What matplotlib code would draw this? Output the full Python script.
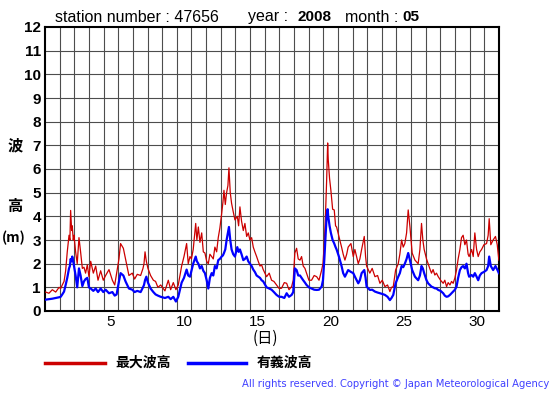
import matplotlib
matplotlib.use("Agg")
import matplotlib.pyplot as plt

# time in days from 1 May 00:00, max wave height (red), significant wave height (blue)
t_day = [0.05, 0.27, 0.5, 0.73, 0.96, 1.07, 1.18, 1.3, 1.41, 1.52, 1.64, 1.7, 1.75, 1.82, 1.86, 1.93, 1.98,
         2.09, 2.2, 2.32, 2.43, 2.55, 2.66, 2.77, 2.89, 3.0, 3.12, 3.3, 3.46, 3.62, 3.8, 3.98, 4.14, 4.37,
         4.6, 4.76, 4.89, 5.05, 5.16, 5.35, 5.5, 5.73, 5.96, 6.12, 6.3, 6.53, 6.69, 6.76, 6.83, 6.92, 7.03,
         7.21, 7.4, 7.55, 7.71, 7.9, 8.19, 8.42, 8.58, 8.76, 8.94, 9.1, 9.33, 9.49, 9.67, 9.78, 9.9, 10.0,
         10.12, 10.29, 10.37, 10.47, 10.58, 10.7, 10.81, 10.92, 11.04, 11.15, 11.26, 11.38, 11.49, 11.6,
         11.72, 11.83, 11.94, 12.06, 12.15, 12.22, 12.31, 12.4, 12.49, 12.56, 12.65, 12.74, 12.85, 12.97,
         13.13, 13.22, 13.31, 13.42, 13.54, 13.65, 13.77, 13.88, 13.99, 14.11, 14.22, 14.33, 14.45, 14.56,
         14.68, 14.79, 14.9, 15.13, 15.31, 15.47, 15.63, 15.81, 15.99, 16.15, 16.34, 16.5, 16.66, 16.84,
         16.95, 17.06, 17.18, 17.29, 17.41, 17.52, 17.63, 17.75, 17.86, 18.02, 18.2, 18.38, 18.55, 18.71,
         18.89, 18.98, 19.07, 19.16, 19.23, 19.3, 19.34, 19.43, 19.52, 19.64, 19.75, 19.84, 19.91, 20.07,
         20.25, 20.36, 20.48, 20.6, 20.7, 20.89, 21.05, 21.16, 21.39, 21.5, 21.62, 21.8, 21.89, 21.96,
         22.18, 22.34, 22.53, 22.71, 22.87, 23.03, 23.21, 23.39, 23.55, 23.66, 23.78, 23.94, 24.12, 24.23,
         24.35, 24.46, 24.57, 24.69, 24.8, 24.92, 25.07, 25.26, 25.48, 25.6, 25.71, 25.8, 25.89, 26.05,
         26.16, 26.27, 26.39, 26.5, 26.62, 26.73, 26.85, 27.01, 27.19, 27.3, 27.42, 27.53, 27.65, 27.76,
         27.87, 27.99, 28.1, 28.21, 28.33, 28.44, 28.55, 28.67, 28.78, 28.89, 28.96, 29.13, 29.24, 29.35,
         29.47, 29.58, 29.69, 29.81, 29.97, 30.15, 30.26, 30.33, 30.44, 30.6, 30.76, 30.88, 30.99]

max_h = [0.8, 0.75, 0.9, 0.8, 1.0, 0.95, 1.1, 1.25, 1.7, 2.5, 3.2, 3.0, 4.25, 3.4, 3.6, 3.0, 3.2,
         2.5, 2.0, 3.1, 2.5, 1.8, 1.85, 1.6, 1.95, 1.45, 2.1, 1.6, 1.9, 1.3, 1.7, 1.3, 1.5, 1.75,
         1.3, 1.1, 1.6, 2.2, 2.85, 2.65, 2.2, 1.5, 1.6, 1.35, 1.55, 1.5, 1.8, 2.0, 2.5, 2.1, 1.8,
         1.5, 1.3, 1.25, 1.0, 1.1, 0.85, 1.3, 0.9, 1.2, 0.9, 1.1, 1.9, 2.3, 2.85, 2.0, 2.3, 2.2,
         2.6, 3.7, 3.0, 3.55, 2.9, 3.3, 2.5, 2.45, 2.1, 2.0, 2.4, 2.3, 2.2, 2.7,
         2.5, 3.1, 3.5, 4.1, 4.6, 5.1, 4.5, 5.0, 5.3, 6.05, 5.0, 4.55, 4.2, 3.85,
         4.0, 3.6, 4.4, 3.8, 3.4, 3.7, 3.15, 3.3, 3.0, 3.1, 2.7, 2.5, 2.3, 2.1,
         1.9, 1.95, 1.75, 1.45, 1.6, 1.3, 1.25, 1.1, 0.95, 0.96, 1.2, 1.17, 0.9, 1.03,
         1.3, 2.45, 2.65, 2.2, 2.15, 2.3, 1.9, 1.8, 1.6, 1.3, 1.3, 1.5, 1.45, 1.3,
         1.73, 2.0, 2.85, 4.2, 5.5, 7.1, 6.4, 5.6, 5.1, 4.3, 4.27, 3.6, 3.55, 3.15,
         2.7, 2.4, 2.15, 2.4, 2.7, 2.85, 2.3, 2.6, 2.0, 2.2, 2.6, 3.15, 2.3, 1.9,
         1.6, 1.8, 1.45, 1.5, 1.17, 1.3, 1.03, 1.1, 0.82, 1.0, 1.03, 1.73, 2.0, 2.4,
         3.0, 2.7, 2.85, 3.3, 4.27, 3.55, 2.45, 2.15, 2.0, 2.6, 3.7, 3.0, 2.6, 2.2,
         2.0, 1.8, 1.6, 1.75, 1.52, 1.6, 1.45, 1.3, 1.17, 1.3, 1.03, 1.2, 1.1, 1.25,
         1.17, 1.4, 1.73, 2.2, 2.6, 3.1, 3.2, 2.8, 3.0, 2.4, 2.3, 2.6, 2.3, 3.3,
         2.6, 2.3, 2.5, 2.6, 2.8, 2.85, 3.2, 3.9, 2.8, 3.0, 3.15, 2.8, 2.15]

sig_h = [0.48, 0.5, 0.52, 0.55, 0.58, 0.6, 0.7, 0.82, 1.1, 1.4, 1.8, 1.9, 2.2, 2.1, 2.3, 2.1, 1.9,
         1.5, 1.0, 1.8, 1.5, 1.05, 1.25, 1.35, 1.4, 1.0, 0.95, 0.85, 0.95, 0.8, 0.95, 0.8, 0.9, 0.75,
         0.8, 0.65, 0.7, 1.25, 1.6, 1.5, 1.25, 0.95, 0.9, 0.8, 0.85, 0.8, 1.0, 1.1, 1.3, 1.45, 1.2,
         0.95, 0.8, 0.7, 0.65, 0.6, 0.55, 0.6, 0.5, 0.6, 0.4, 0.6, 1.2, 1.4, 1.75, 1.5, 1.45, 1.7,
         2.0, 2.3, 2.1, 2.0, 1.8, 1.9, 1.7, 1.6, 1.3, 0.95, 1.4, 1.6, 1.5, 1.9,
         1.8, 2.15, 2.2, 2.3, 2.35, 2.45, 2.6, 3.0, 3.3, 3.55, 3.0, 2.6, 2.4, 2.3,
         2.7, 2.5, 2.6, 2.4, 2.15, 2.2, 2.3, 2.1, 2.0, 1.9, 1.75, 1.65, 1.5, 1.45,
         1.4, 1.3, 1.25, 1.0, 0.95, 0.9, 0.8, 0.68, 0.6, 0.6, 0.55, 0.75, 0.6, 0.68,
         0.8, 1.8, 1.73, 1.5, 1.5, 1.4, 1.3, 1.2, 1.1, 1.0, 0.95, 0.9, 0.89, 0.9,
         1.03, 1.3, 2.15, 3.2, 4.0, 4.3, 4.0, 3.6, 3.3, 3.0, 2.85, 2.7, 2.6, 2.3,
         1.9, 1.6, 1.45, 1.6, 1.73, 1.65, 1.6, 1.45, 1.17, 1.3, 1.6, 1.73, 1.4, 1.03,
         0.89, 0.9, 0.82, 0.78, 0.75, 0.72, 0.68, 0.6, 0.46, 0.55, 0.68, 1.17, 1.45, 1.6,
         1.9, 1.85, 2.0, 2.2, 2.45, 2.15, 1.73, 1.45, 1.3, 1.5, 1.9, 1.8, 1.6, 1.3,
         1.17, 1.1, 1.03, 1.0, 0.96, 0.95, 0.89, 0.85, 0.75, 0.65, 0.6, 0.62, 0.68, 0.75,
         0.82, 0.9, 1.03, 1.4, 1.73, 1.85, 1.9, 1.8, 2.0, 1.6, 1.45, 1.52, 1.45, 1.6,
         1.45, 1.3, 1.5, 1.6, 1.65, 1.73, 1.9, 2.3, 1.9, 1.73, 1.9, 1.75, 1.6]

day_labels = [5, 10, 15, 20, 25, 30]
y_labels = list(range(0, 13))

fig = plt.figure(figsize=(5.55, 3.95), dpi=100)
ax = fig.add_axes([45 / 555, 84 / 395, 454 / 555, 284 / 395])

ax.plot(t_day, max_h, color="#cc0000", lw=0.9, zorder=3)
ax.plot(t_day, sig_h, color="#0000ff", lw=1.6, zorder=4)

ax.set_xlim(0, 31)
ax.set_ylim(0, 12)

# grid: one line per day, one per metre
for d in range(1, 31):
    ax.axvline(d, color="#4d4d4d", lw=0.8, zorder=1)
for m in range(1, 12):
    ax.axhline(m, color="#4d4d4d", lw=0.8, zorder=1)

ax.set_xticks([d - 0.5 for d in day_labels])
ax.set_xticklabels([str(d) for d in day_labels], fontsize=11, family="Liberation Sans")
ax.set_yticks(y_labels)
ax.set_yticklabels([str(v) for v in y_labels], fontsize=11, fontweight="bold", family="Liberation Sans")
ax.tick_params(length=0, pad=3)
for s in ax.spines.values():
    s.set_linewidth(1.5)

jp = ["Noto Sans CJK JP", "DejaVu Sans"]
fig.text(15 / 555, 1 - 145 / 395, "波", fontsize=11, fontweight="bold", family=jp, ha="center", va="center")
fig.text(15 / 555, 1 - 206 / 395, "高", fontsize=11, fontweight="bold", family=jp, ha="center", va="center")
fig.text(14 / 555, 1 - 238 / 395, "(m)", fontsize=10, fontweight="bold", family=jp, ha="center", va="center")
fig.text(265 / 555, 1 - 338 / 395, "(日)", fontsize=11, family=jp, ha="center", va="center")

fig.text(55 / 555, 1 - 17 / 395, "station number : 47656", fontsize=11.5, family="Liberation Sans", va="center")
fig.text(248 / 555, 1 - 17 / 395, "year :", fontsize=11.5, family="Liberation Sans", va="center")
fig.text(298 / 555, 1 - 17 / 395, "2008", fontsize=11, fontweight="bold", family="Liberation Sans", va="center")
fig.text(345 / 555, 1 - 17 / 395, "month :", fontsize=11.5, family="Liberation Sans", va="center")
fig.text(402 / 555, 1 - 17 / 395, "05", fontsize=11, fontweight="bold", family="Liberation Sans", va="center")

# legend drawn by hand
fig.add_artist(plt.Line2D([45 / 555, 105 / 555], [1 - 363 / 395] * 2, color="#cc0000", lw=2.5))
fig.text(115 / 555, 1 - 363 / 395, "最大波高", fontsize=10, fontweight="bold", family=jp, va="center")
fig.add_artist(plt.Line2D([188 / 555, 246 / 555], [1 - 363 / 395] * 2, color="#0000ff", lw=2.5))
fig.text(257 / 555, 1 - 363 / 395, "有義波高", fontsize=10, fontweight="bold", family=jp, va="center")

fig.text(549 / 555, 1 - 384 / 395, "All rights reserved. Copyright © Japan Meteorological Agency",
         fontsize=7.2, color="#4040ff", family="DejaVu Sans", ha="right", va="center")

fig.savefig("out.png", dpi=100)
